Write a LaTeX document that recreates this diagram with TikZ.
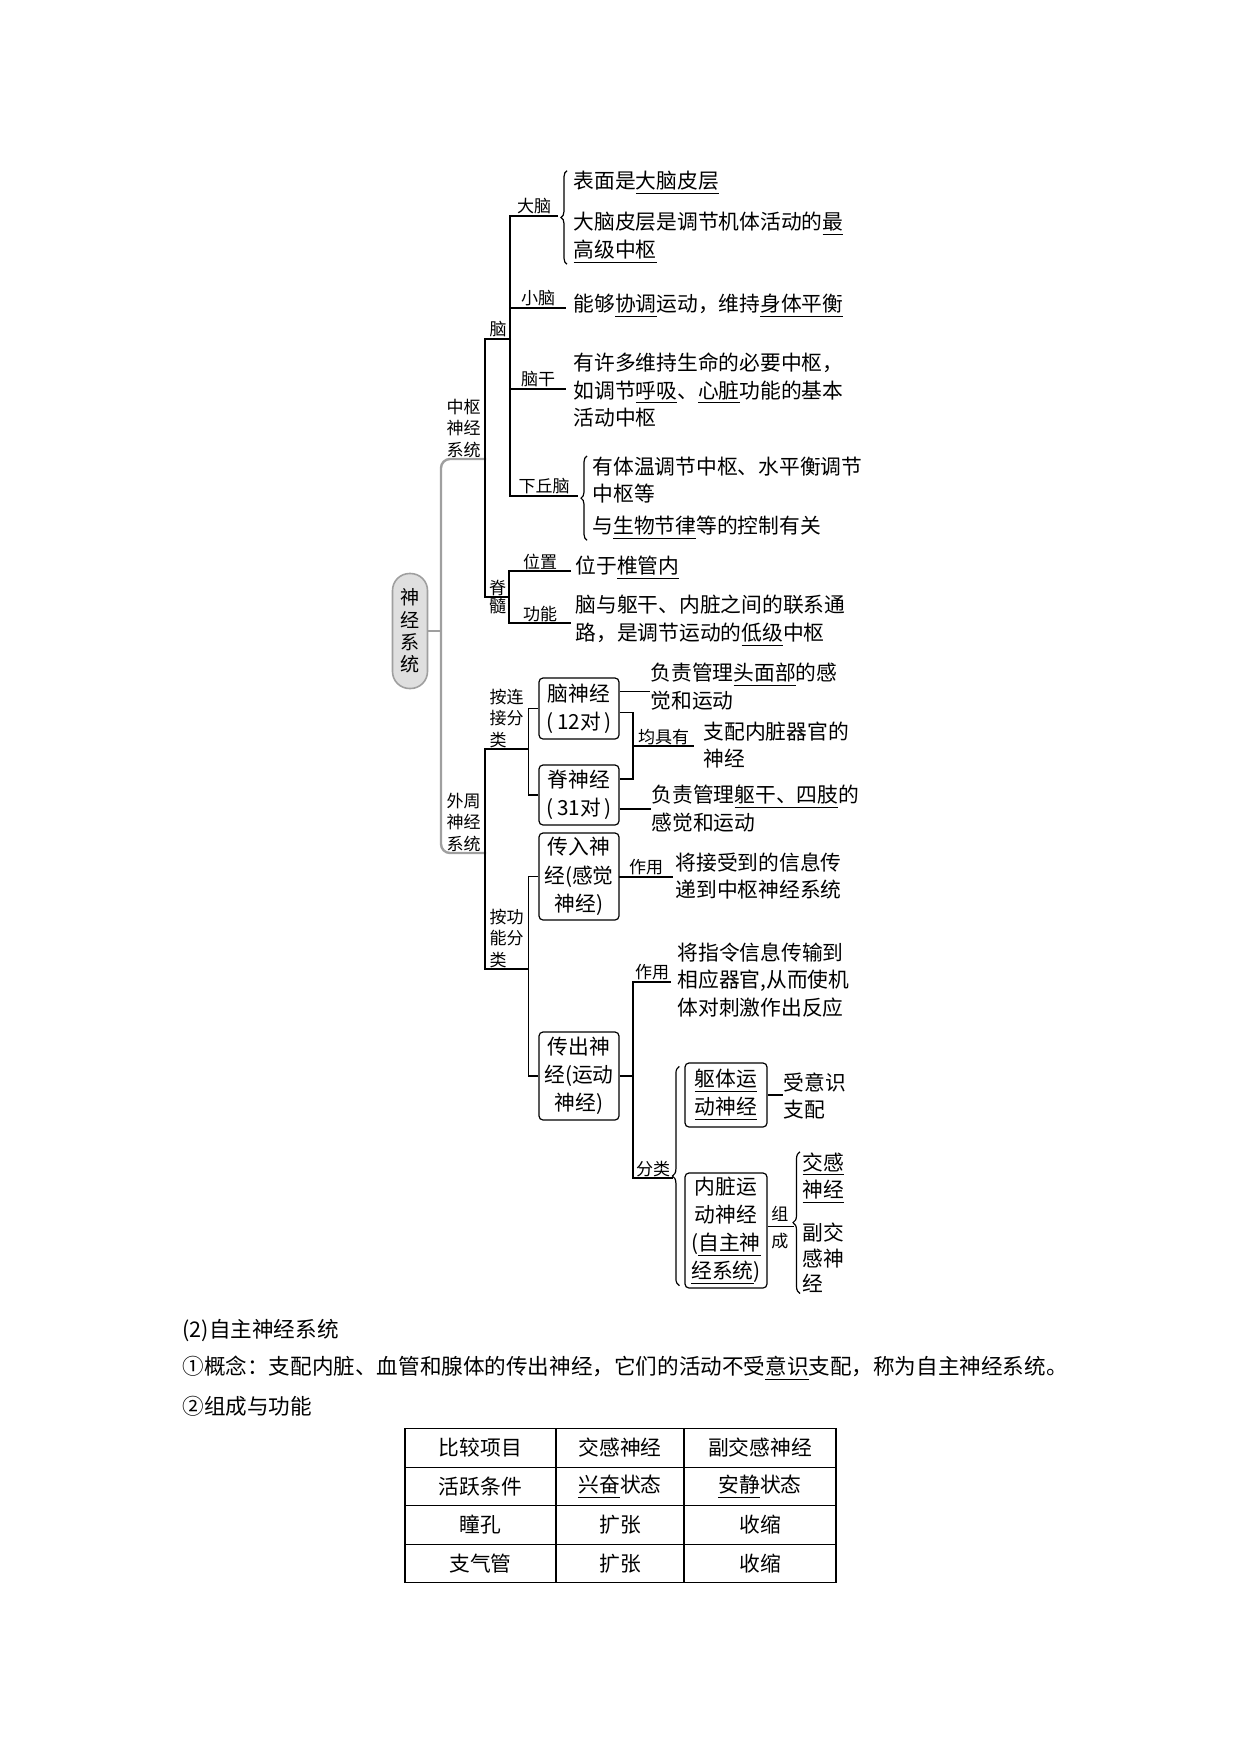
\documentclass[tikz,border=0pt]{standalone}
\usepackage{fontspec}
\setmainfont{Noto Sans CJK SC}
\usepackage{tikz}
\usetikzlibrary{decorations.pathreplacing}

\newdimen\pxu \pxu=0.16933mm
\newcommand{\ul}[1]{\underline{#1}}

\tikzset{
    txt/.style={inner sep=0pt, anchor=west, align=left, font=\fontsize{10pt}{13.4pt}\selectfont},
    lbl/.style={inner xsep=0pt, inner ysep=1\pxu, anchor=south west, align=center, font=\fontsize{8.2pt}{10.2pt}\selectfont},
    bx/.style={draw, rounded corners=4\pxu, align=center, inner sep=0pt, minimum width=80\pxu, font=\fontsize{10pt}{13.6pt}\selectfont},
    br/.style={decorate, decoration={brace, amplitude=6\pxu}},
    trunk/.style={draw=gray!75, line width=2.4\pxu, rounded corners=9\pxu},
    cell/.style={draw, line width=1.4\pxu, minimum height=38.5\pxu, inner sep=0pt, font=\fontsize{10pt}{12pt}\selectfont}
}

\begin{document}
\begin{tikzpicture}[x=0.16933mm, y=-0.16933mm, line width=1.2\pxu]
    \useasboundingbox (0,0) rectangle (1240,1754);

    % root
    \node[draw=gray!75, fill=gray!25, line width=1.6\pxu, rounded corners=17\pxu, minimum width=35\pxu, minimum height=115\pxu,
          inner sep=0pt, align=center, font=\fontsize{9.2pt}{10.8pt}\selectfont] (root) at (410,631) {神\\经\\系\\统};
    \node[lbl, minimum width=44\pxu] (zs) at (441,459) {中枢\\神经\\系统};
    \node[lbl, minimum width=44\pxu] (ww) at (441,853) {外周\\神经\\系统};
    \draw[trunk] (zs.south east) -- (zs.south west) -- (ww.south west) -- (ww.south east);
    \draw[trunk, rounded corners=0] (root.east) -- (root.east -| zs.south west);

    % central nervous system
    \node[lbl, minimum width=25\pxu] (nao) at (485,339) {脑};
    \node[lbl, minimum width=24\pxu] (jisui) at (485,597) {脊};
    \node[lbl, anchor=north] (sui) at (jisui.south) {髓};
    \draw (nao.south east) -- (nao.south west) -- (jisui.south west) -- (jisui.south east);

    \node[lbl, minimum width=47\pxu] (dn) at (510,216) {大脑};
    \node[lbl, minimum width=55\pxu] (xn) at (510,308) {小脑};
    \node[lbl, minimum width=55\pxu] (ng) at (510,389) {脑干};
    \node[lbl, minimum width=67\pxu] (xqn) at (510,496) {下丘脑};
    \draw (dn.south east) -- (dn.south west) -- (xqn.south west) -- (xqn.south east);
    \draw (xn.south west) -- (xn.south east);
    \draw (ng.south west) -- (ng.south east);

    \node[txt] (dn1) at (573,183) {表面是\ul{大脑皮层}};
    \node[txt] (dn2) at (573,238) {大脑皮层是调节机体活动的\ul{最}\\\ul{高级中枢}};
    \draw[br] ([xshift=-6\pxu]dn2.south west) -- ([xshift=-6\pxu]dn1.north west);
    \node[txt] (xn1) at (573,306) {能够\ul{协调}运动，维持\ul{身体平衡}};
    \node[txt] (ng1) at (573,390) {有许多维持生命的必要中枢，\\如调节\ul{呼吸}、\ul{心脏}功能的基本\\活动中枢};
    \node[txt] (xq1) at (592,480) {有体温调节中枢、水平衡调节\\中枢等};
    \node[txt] (xq2) at (592,528) {与\ul{生物节律}等的控制有关};
    \draw[br] ([xshift=-5\pxu]xq2.south west) -- ([xshift=-5\pxu]xq1.north west);

    \node[lbl, minimum width=61\pxu] (wz) at (509,571) {位置};
    \node[lbl, minimum width=61\pxu] (gn) at (509,623) {功能};
    \draw (wz.south east) -- (wz.south west) -- (gn.south west) -- (gn.south east);
    \node[txt] (wz1) at (575,568) {位于\ul{椎管内}};
    \node[txt] (gn1) at (575,621) {脑与躯干、内脏之间的联系通\\路，是调节运动的\ul{低级}中枢};

    % peripheral nervous system
    \node[lbl, minimum width=42\pxu, align=left] (alj) at (485,749) {按连\\接分\\类};
    \node[lbl, minimum width=42\pxu, align=left] (agn) at (485,969) {按功\\能分\\类};
    \draw (alj.south east) -- (alj.south west) -- (agn.south west) -- (agn.south east);

    \node[bx, minimum height=61\pxu] (nsj) at (579,708.5) {脑神经\\(\,12对\,)};
    \node[bx, minimum height=60\pxu] (jsj) at (579,795) {脊神经\\(\,31对\,)};
    \draw (nsj.west) -| (alj.south east) |- (jsj.west);

    \node[txt] (nsj1) at (650,687) {负责管理\ul{头面部}的感\\觉和运动};
    \draw ([yshift=17\pxu]nsj.east) -- ([yshift=17\pxu]nsj.east -| nsj1.west);
    \node[lbl, minimum width=60\pxu] (jjy) at (633,746) {均具有};
    \draw ([yshift=-4\pxu]nsj.east) -| (jjy.south west) |- ([yshift=16\pxu]jsj.east);
    \draw (jjy.south west) -- (jjy.south east);
    \node[txt] (jjy1) at (703,745) {支配内脏器官的\\神经};
    \node[txt] (jsj1) at (651,809) {负责管理\ul{躯干、四肢}的\\感觉和运动};
    \draw ([yshift=-14\pxu]jsj.east) -- (jsj1.west);

    \node[bx, minimum height=87\pxu] (crsj) at (579,876.5) {传入神\\经(感觉\\神经)};
    \node[bx, minimum height=88\pxu] (ccsj) at (579,1076) {传出神\\经(运动\\神经)};
    \draw (crsj.west) -| (agn.south east) |- (ccsj.west);

    \node[lbl, minimum width=53\pxu] (zy1) at (619,877) {作用};
    \draw (zy1.south west) -- (zy1.south east);
    \node[txt] (zy11) at (675,876) {将接受到的信息传\\递到中枢神经系统};

    \node[lbl, minimum width=37\pxu] (zy2) at (633,982) {作用};
    \node[lbl, minimum width=39\pxu] (fl) at (633,1178) {分类};
    \draw (zy2.south east) -- (zy2.south west) -- (fl.south west) -- (fl.south east);
    \draw (ccsj.east) -- (ccsj.east -| fl.south west);
    \node[txt] (zy21) at (677,980) {将指令信息传输到\\相应器官,从而使机\\体对刺激作出反应};

    \node[bx, minimum width=82\pxu, minimum height=64\pxu] (qtyd) at (726,1095) {\ul{躯体运}\\\ul{动神经}};
    \node[bx, minimum width=82\pxu, minimum height=115\pxu] (nzyd) at (726,1230.5) {内脏运\\动神经\\(\ul{自主神}\\\ul{经系统})};
    \draw[br, decoration={amplitude=7\pxu}] ([xshift=-5\pxu,yshift=3\pxu]nzyd.south west) -- ([xshift=-5\pxu,yshift=-4\pxu]qtyd.north west);
    \node[txt] (syz) at (783,1096) {受意识\\支配};
    \draw (qtyd.east) -- (qtyd.east -| syz.west);

    \node[lbl, anchor=center, minimum width=26\pxu, inner ysep=0pt, font=\fontsize{8.2pt}{13pt}\selectfont] (zc) at (780,1228) {组\\成};
    \draw ([yshift=4\pxu]nzyd.east) -- ([yshift=4\pxu]nzyd.east -| zc.east);
    \node[txt] (jg) at (802,1178) {\ul{交感}\\\ul{神经}};
    \node[txt, font=\fontsize{10pt}{12.3pt}\selectfont] (fjg) at (802,1258) {副交\\感神\\经};
    \draw[br, decoration={amplitude=7\pxu}] ([xshift=-2\pxu]fjg.south west) -- ([xshift=-2\pxu]jg.north west);

    % text below
    \node[txt, font=\fontsize{10.4pt}{12pt}\selectfont] (zzsj) at (182,1330) {(2)自主神经系统};
    \node[txt, font=\fontsize{10.4pt}{12pt}\selectfont] (gainian) at (182,1368) {①概念：支配内脏、血管和腺体的传出神经，它们的活动不受\ul{意识}支配，称为自主神经系统。};
    \node[txt, font=\fontsize{10.4pt}{12pt}\selectfont] (zcgn) at (182,1406) {②组成与功能};

    % table
    \foreach \y/\a/\b/\c [count=\i] in {1448/比较项目/交感神经/副交感神经,
                                        1486.5/活跃条件/\ul{兴奋}状态/\ul{安静}状态,
                                        1525/瞳孔/扩张/收缩,
                                        1563.5/支气管/扩张/收缩}
    {
        \node[cell, minimum width=151\pxu] (a\i) at (480.5,\y) {\a};
        \node[cell, minimum width=128\pxu] (b\i) at (620,\y) {\b};
        \node[cell, minimum width=152\pxu] (c\i) at (760,\y) {\c};
    }
\end{tikzpicture}
\end{document}
